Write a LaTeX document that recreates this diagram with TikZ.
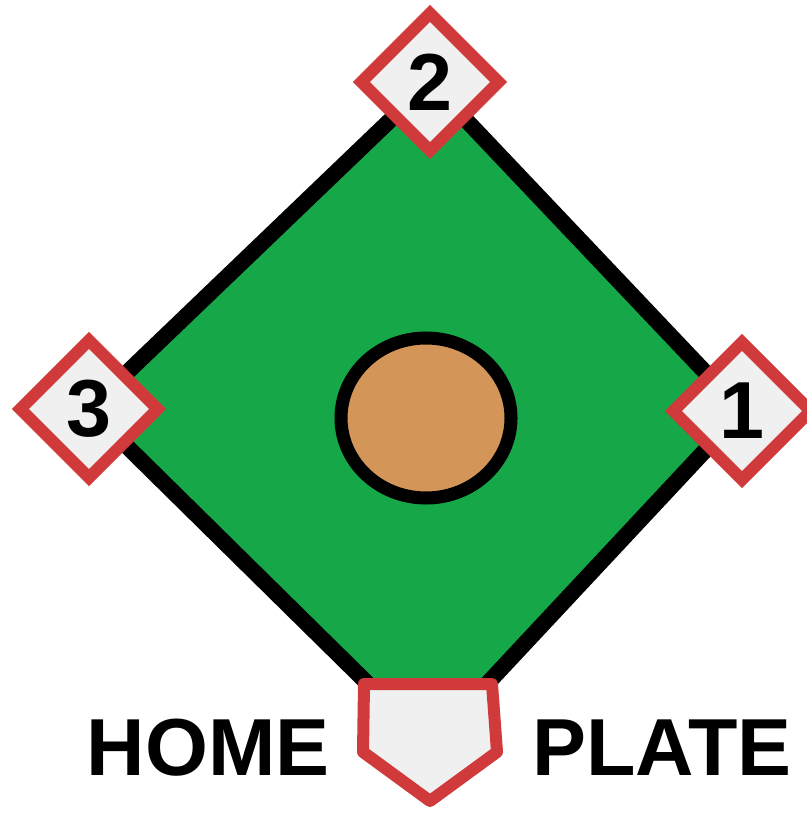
\documentclass[tikz,border=0pt]{standalone}
\usepackage{fontspec}
\setmainfont{Liberation Sans}
\usepackage{tikz}
\usetikzlibrary{shapes.geometric}
\definecolor{fieldgreen}{RGB}{22,168,72}
\definecolor{basered}{RGB}{208,58,58}
\definecolor{basegray}{RGB}{240,240,240}
\definecolor{moundtan}{RGB}{212,150,88}

\begin{document}
\begin{tikzpicture}[
  x=0.01cm, y=-0.01cm,
  every node/.style={font=\fontsize{23pt}{23pt}\selectfont\bfseries},
  base/.style={draw=basered, fill=basegray, diamond, line width=0.12cm,
               minimum width=1.42cm, minimum height=1.42cm, inner sep=0pt},
  field/.style={draw=black, fill=fieldgreen, line width=0.16cm, line join=miter},
  mound/.style={draw=black, fill=moundtan, line width=0.13cm},
  plate/.style={draw=basered, fill=basegray, line width=0.12cm, line join=round},
  word/.style={anchor=base, inner sep=0pt}
]
\useasboundingbox (0,0) rectangle (807,813);
\coordinate (c1) at (742,411);
\coordinate (c2) at (430,82);
\coordinate (c3) at (89,409);
\coordinate (ch) at (430,745);
\draw[field] (ch) -- (c1) -- (c2) -- (c3) -- cycle;
\draw[mound] (426,418) ellipse [x radius=85, y radius=80];
\node[base] (first)  at (c1) {1};
\node[base] (second) at (c2) {2};
\node[base] (third)  at (c3) {3};
\draw[plate] (364,684) -- (492,684) -- (497,752) -- (430,801)
  -- (363,752) -- cycle;
\node[word] (home)  at (208,775) {HOME};
\node[word] (platetxt) at (662,775) {PLATE};
\end{tikzpicture}
\end{document}
